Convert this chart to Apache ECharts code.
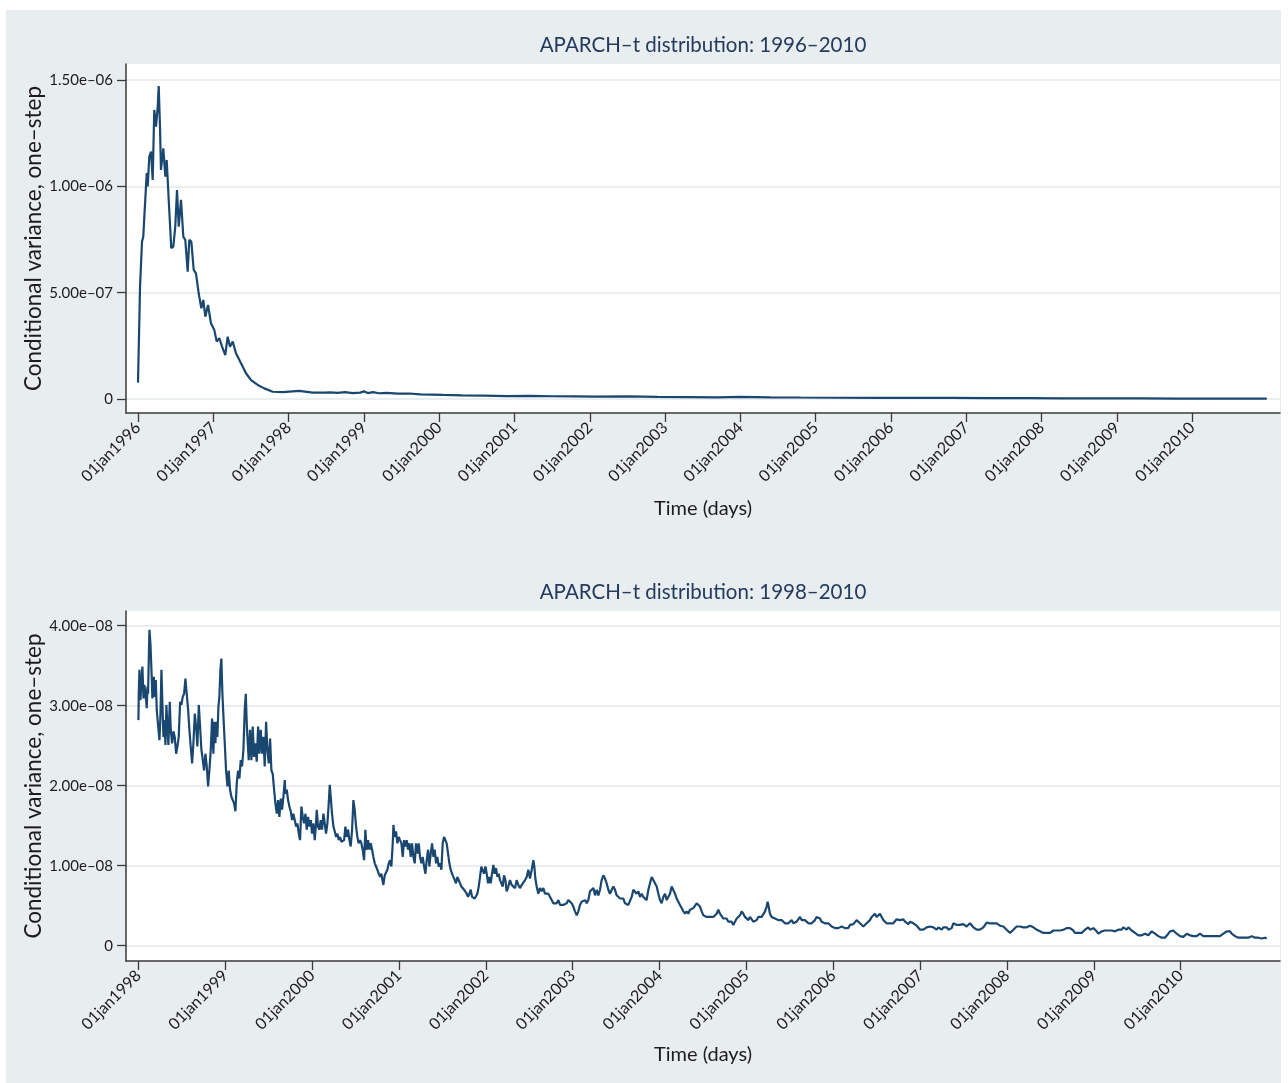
<!DOCTYPE html>
<html>
<head>
<meta charset="utf-8">
<title>APARCH-t conditional variance</title>
<script src="https://cdn.jsdelivr.net/npm/echarts@6/dist/echarts.min.js"></script>
<style>
  html, body { margin: 0; padding: 0; background: #ffffff; }
  #chart { width: 1288px; height: 1083px; }
</style>
</head>
<body>
<div id="chart"></div>
<script>
// ---- text ----
const panelTitles = ['APARCH\u2013t distribution: 1996\u20132010', 'APARCH\u2013t distribution: 1998\u20132010'];
const yAxisTitle = 'Conditional variance, one\u2013step';
const xAxisTitle = 'Time (days)';

// ---- ticks ----
const topYearTicks = [1996, 1997, 1998, 1999, 2000, 2001, 2002, 2003, 2004, 2005, 2006, 2007, 2008, 2009, 2010];
const bottomYearTicks = [1998, 1999, 2000, 2001, 2002, 2003, 2004, 2005, 2006, 2007, 2008, 2009, 2010];
const topVarTicks = [0, 5e-7, 1e-6, 1.5e-6];
const topVarTickLabels = ['0', '5.00e\u201307', '1.00e\u201306', '1.50e\u201306'];
const bottomVarTicks = [0, 1e-8, 2e-8, 3e-8, 4e-8];
const bottomVarTickLabels = ['0', '1.00e\u201308', '2.00e\u201308', '3.00e\u201308', '4.00e\u201308'];

// ---- series: [decimal year, conditional variance] ----
// 1996-2010 fit, variance in units of 1e-6
const topPoints = [
  [1996.000,0.077],[1996.027,0.528],[1996.053,0.740],[1996.070,0.763],[1996.084,0.857],[1996.116,1.062],[1996.129,0.999],[1996.150,1.140],[1996.173,1.163],[1996.195,1.030],
  [1996.216,1.359],[1996.239,1.281],[1996.262,1.375],[1996.275,1.472],[1996.292,1.281],[1996.305,1.077],[1996.336,1.179],[1996.363,1.046],[1996.381,1.124],[1996.408,0.936],
  [1996.442,0.709],[1996.469,0.716],[1996.495,0.810],[1996.518,0.983],[1996.541,0.810],[1996.571,0.936],[1996.602,0.763],[1996.628,0.748],[1996.660,0.599],[1996.681,0.748],
  [1996.708,0.740],[1996.740,0.607],[1996.770,0.591],[1996.806,0.497],[1996.841,0.427],[1996.867,0.466],[1996.894,0.387],[1996.930,0.442],[1996.969,0.356],[1997.013,0.325],
  [1997.045,0.270],[1997.080,0.286],[1997.116,0.246],[1997.159,0.207],[1997.191,0.293],[1997.222,0.246],[1997.258,0.270],[1997.301,0.215],[1997.368,0.168],[1997.434,0.121],
  [1997.501,0.089],[1997.590,0.066],[1997.677,0.050],[1997.789,0.034],[1997.922,0.032],[1998.142,0.038],[1998.320,0.030],[1998.487,0.030],
  [1998.550,0.031],[1998.650,0.029],[1998.750,0.032],[1998.850,0.028],[1998.950,0.030],[1999.000,0.036],[1999.050,0.028],[1999.120,0.032],[1999.200,0.027],[1999.300,0.029],
  [1999.450,0.025],[1999.600,0.026],[1999.750,0.022],[1999.900,0.021],[2000.050,0.019],[2000.300,0.017],[2000.600,0.016],[2000.900,0.014],[2001.200,0.015],[2001.500,0.013],
  [2001.800,0.012],[2002.100,0.011],[2002.500,0.012],[2002.900,0.010],[2003.300,0.009],[2003.700,0.008],[2004.000,0.010],[2004.400,0.008],[2004.800,0.007],[2005.300,0.006],
  [2005.800,0.005],[2006.300,0.005],[2006.800,0.005],[2007.300,0.004],[2007.800,0.004],[2008.300,0.003],[2008.800,0.003],[2009.300,0.003],[2009.800,0.002],[2010.300,0.002],
  [2010.990,0.002]
];

// 1998-2010 fit, variance in units of 1e-8
const bottomPoints = [
  [1998.000,2.82],[1998.004,3.15],[1998.012,3.45],[1998.023,3.07],[1998.035,3.30],[1998.046,3.49],[1998.058,3.09],[1998.069,3.26],[1998.081,3.15],[1998.096,2.97],
  [1998.104,3.24],[1998.111,3.15],[1998.119,3.57],[1998.127,3.95],[1998.138,3.78],[1998.150,3.45],[1998.161,3.09],[1998.177,3.36],[1998.188,3.11],[1998.200,3.32],
  [1998.211,2.95],[1998.226,2.76],[1998.242,2.57],[1998.253,2.86],[1998.265,3.45],[1998.276,3.03],[1998.288,2.61],[1998.299,2.82],[1998.311,2.51],[1998.322,3.01],
  [1998.334,2.74],[1998.345,2.51],[1998.361,3.05],[1998.372,2.70],[1998.388,2.53],[1998.403,2.68],[1998.418,2.61],[1998.434,2.40],[1998.449,2.49],[1998.464,2.61],
  [1998.480,3.05],[1998.495,3.01],[1998.510,3.11],[1998.526,3.15],[1998.541,3.34],[1998.556,3.15],[1998.572,2.95],[1998.587,2.70],[1998.602,2.49],[1998.618,2.28],
  [1998.633,2.53],[1998.649,2.90],[1998.664,2.74],[1998.679,2.49],[1998.695,3.01],[1998.710,2.74],[1998.725,2.45],[1998.741,2.32],[1998.756,2.19],[1998.771,2.40],
  [1998.787,2.24],[1998.802,1.99],[1998.817,2.19],[1998.833,2.45],[1998.848,2.84],[1998.863,2.40],[1998.875,2.80],[1998.886,2.53],[1998.898,2.80],[1998.909,2.61],
  [1998.921,2.99],[1998.932,3.11],[1998.944,3.45],[1998.955,3.59],[1998.967,3.15],[1998.979,2.86],[1998.994,2.53],[1999.009,2.19],[1999.025,1.99],[1999.040,2.19],
  [1999.055,1.95],[1999.071,1.86],[1999.086,1.88],[1999.101,1.78],[1999.117,1.68],[1999.132,2.03],[1999.147,2.19],[1999.163,2.09],[1999.178,2.32],[1999.193,2.24],
  [1999.209,2.45],[1999.224,2.95],[1999.236,3.15],[1999.247,2.78],[1999.259,2.53],[1999.270,2.32],[1999.285,2.70],[1999.301,2.32],[1999.316,2.74],[1999.331,2.36],
  [1999.347,2.53],[1999.362,2.30],[1999.378,2.74],[1999.393,2.40],[1999.408,2.70],[1999.424,2.40],[1999.439,2.61],[1999.454,2.24],[1999.470,2.80],[1999.485,2.45],
  [1999.500,2.28],[1999.516,2.59],[1999.531,2.19],[1999.546,2.15],[1999.562,1.95],[1999.577,1.78],[1999.593,1.65],[1999.608,1.82],[1999.623,1.61],[1999.639,1.84],
  [1999.654,1.70],[1999.669,1.86],[1999.685,2.07],[1999.692,1.90],[1999.708,1.95],[1999.723,1.82],[1999.738,1.74],[1999.754,1.68],[1999.769,1.57],[1999.784,1.65],
  [1999.800,1.57],[1999.815,1.49],[1999.830,1.53],[1999.846,1.40],[1999.861,1.32],[1999.876,1.74],[1999.892,1.61],[1999.907,1.53],[1999.923,1.65],[1999.938,1.45],
  [1999.953,1.61],[1999.969,1.49],[1999.984,1.57],[1999.999,1.40],[2000.015,1.53],[2000.030,1.32],[2000.045,1.53],[2000.053,1.70],[2000.068,1.49],[2000.084,1.45],
  [2000.099,1.57],[2000.114,1.45],[2000.130,1.65],[2000.145,1.53],[2000.160,1.40],[2000.176,1.53],[2000.191,1.78],[2000.203,2.01],[2000.214,1.86],[2000.229,1.65],
  [2000.245,1.49],[2000.260,1.43],[2000.276,1.36],[2000.291,1.40],[2000.306,1.32],[2000.322,1.36],[2000.337,1.30],[2000.352,1.28],[2000.368,1.32],[2000.383,1.49],
  [2000.398,1.36],[2000.414,1.45],[2000.429,1.32],[2000.444,1.24],[2000.460,1.45],[2000.475,1.82],[2000.490,1.70],[2000.506,1.49],[2000.521,1.36],[2000.536,1.28],
  [2000.552,1.32],[2000.567,1.28],[2000.582,1.20],[2000.598,1.07],[2000.613,1.45],[2000.628,1.20],[2000.644,1.32],[2000.659,1.20],[2000.675,1.28],[2000.690,1.20],
  [2000.705,1.11],[2000.721,1.03],[2000.736,0.99],[2000.751,0.95],[2000.767,0.90],[2000.782,0.86],[2000.797,0.90],[2000.813,0.80],[2000.820,0.76],[2000.836,0.88],
  [2000.851,0.90],[2000.866,0.95],[2000.882,1.03],[2000.897,1.07],[2000.912,0.99],[2000.928,1.28],[2000.936,1.51],[2000.951,1.36],[2000.966,1.43],[2000.982,1.28],
  [2000.997,1.36],[2001.012,1.32],[2001.028,1.28],[2001.043,1.11],[2001.058,1.32],[2001.074,1.24],[2001.089,1.32],[2001.104,1.20],[2001.120,1.28],[2001.135,1.11],
  [2001.150,1.28],[2001.166,1.11],[2001.181,1.03],[2001.196,1.28],[2001.212,1.15],[2001.227,1.28],[2001.242,1.11],[2001.258,1.03],[2001.273,1.11],[2001.289,0.99],
  [2001.304,0.90],[2001.319,1.07],[2001.335,1.20],[2001.350,0.99],[2001.365,1.15],[2001.381,1.28],[2001.396,1.11],[2001.411,1.20],[2001.427,1.03],[2001.442,1.11],
  [2001.457,0.99],[2001.473,1.03],[2001.488,0.95],[2001.503,1.28],[2001.519,1.36],[2001.534,1.32],[2001.549,1.28],[2001.565,1.15],[2001.580,1.03],[2001.595,0.95],
  [2001.611,0.90],[2001.626,0.86],[2001.642,0.82],[2001.657,0.78],[2001.672,0.86],[2001.688,0.82],[2001.703,0.78],[2001.718,0.74],[2001.734,0.74],[2001.749,0.70],
  [2001.764,0.68],[2001.780,0.65],[2001.795,0.61],[2001.810,0.65],[2001.826,0.70],[2001.841,0.61],[2001.856,0.59],[2001.872,0.59],[2001.887,0.61],[2001.902,0.65],
  [2001.918,0.74],[2001.933,0.86],[2001.948,0.99],[2001.964,1.01],[2001.979,0.90],[2001.995,0.99],[2002.010,0.90],[2002.025,0.78],[2002.041,0.86],[2002.056,0.78],
  [2002.071,0.90],[2002.087,1.01],[2002.102,0.90],[2002.117,0.97],[2002.133,0.86],[2002.148,0.90],[2002.163,0.82],[2002.179,0.78],[2002.194,0.74],[2002.209,0.88],
  [2002.225,0.82],
  [2002.240,0.68],[2002.259,0.74],[2002.278,0.82],[2002.297,0.76],[2002.317,0.78],[2002.336,0.72],[2002.355,0.82],[2002.374,0.76],[2002.393,0.72],[2002.413,0.76],
  [2002.432,0.78],[2002.451,0.82],[2002.470,0.86],[2002.489,0.95],[2002.508,0.84],[2002.528,0.95],[2002.547,1.07],[2002.558,0.99],[2002.570,0.84],[2002.585,0.74],
  [2002.604,0.65],[2002.623,0.72],[2002.643,0.68],[2002.662,0.72],[2002.681,0.65],[2002.700,0.63],[2002.719,0.65],[2002.739,0.61],[2002.758,0.57],[2002.777,0.53],
  [2002.796,0.55],[2002.815,0.53],[2002.835,0.57],[2002.854,0.51],[2002.873,0.53],[2002.892,0.51],[2002.911,0.49],[2002.931,0.53],[2002.950,0.57],[2002.969,0.59],
  [2002.988,0.53],[2003.007,0.49],[2003.026,0.43],[2003.046,0.38],[2003.065,0.43],[2003.084,0.51],[2003.103,0.55],[2003.122,0.53],[2003.142,0.57],[2003.161,0.53],
  [2003.180,0.57],[2003.199,0.68],[2003.218,0.70],[2003.238,0.72],[2003.257,0.63],[2003.276,0.70],[2003.295,0.63],[2003.314,0.70],[2003.333,0.82],[2003.353,0.88],
  [2003.372,0.84],[2003.391,0.78],[2003.410,0.70],[2003.429,0.65],[2003.449,0.70],[2003.468,0.74],[2003.487,0.70],[2003.506,0.63],[2003.525,0.61],[2003.545,0.59],
  [2003.564,0.57],[2003.583,0.59],[2003.602,0.53],[2003.621,0.55],[2003.640,0.51],[2003.660,0.53],[2003.679,0.61],[2003.698,0.70],[2003.717,0.72],[2003.736,0.65],
  [2003.756,0.68],[2003.775,0.61],[2003.794,0.65],[2003.813,0.61],[2003.832,0.63],[2003.851,0.57],[2003.871,0.70],[2003.890,0.78],[2003.909,0.86],[2003.928,0.82],
  [2003.947,0.78],[2003.967,0.74],[2003.986,0.65],[2004.005,0.57],[2004.024,0.53],[2004.043,0.61],[2004.063,0.65],[2004.082,0.57],[2004.101,0.59],[2004.120,0.65],
  [2004.139,0.74],[2004.158,0.72],[2004.178,0.65],[2004.197,0.59],[2004.216,0.55],[2004.235,0.51],[2004.254,0.49],[2004.274,0.43],[2004.293,0.40],[2004.312,0.43],
  [2004.331,0.40],[2004.350,0.45],[2004.369,0.43],[2004.389,0.47],[2004.408,0.49],[2004.427,0.53],[2004.446,0.55],[2004.465,0.49],[2004.485,0.43],[2004.504,0.38],
  [2004.523,0.40],[2004.542,0.36],[2004.561,0.38],[2004.581,0.36],[2004.600,0.38],[2004.619,0.36],[2004.638,0.38],[2004.657,0.40],[2004.676,0.45],[2004.696,0.40],
  [2004.715,0.38],[2004.734,0.34],[2004.753,0.32],[2004.772,0.34],[2004.792,0.30],[2004.811,0.32],[2004.830,0.30],[2004.849,0.26],[2004.868,0.30],[2004.888,0.34],
  [2004.907,0.36],[2004.926,0.38],[2004.945,0.43],[2004.964,0.40],[2004.983,0.36],[2005.003,0.34],[2005.022,0.32],[2005.041,0.36],[2005.060,0.34],[2005.079,0.30],
  [2005.099,0.28],[2005.118,0.32],[2005.137,0.36],[2005.156,0.38],[2005.175,0.36],[2005.194,0.38],[2005.214,0.43],[2005.233,0.49],[2005.244,0.55],[2005.256,0.49],
  [2005.271,0.40],[2005.290,0.36],[2005.310,0.38],[2005.329,0.34],[2005.348,0.36],[2005.367,0.32],[2005.386,0.34],[2005.406,0.32],[2005.425,0.30],[2005.444,0.28],
  [2005.463,0.26],[2005.482,0.28],[2005.501,0.30],[2005.521,0.32],[2005.540,0.28],[2005.559,0.26],[2005.578,0.30],[2005.597,0.32],[2005.617,0.36],[2005.636,0.32],
  [2005.655,0.34],[2005.674,0.32],[2005.693,0.30],[2005.713,0.28],[2005.732,0.26],[2005.751,0.28],[2005.770,0.30],[2005.789,0.32],[2005.808,0.36],[2005.828,0.38],
  [2005.847,0.34],[2005.866,0.30],[2005.885,0.28],[2005.904,0.28],[2005.924,0.26],[2005.943,0.28],[2005.962,0.26],[2005.981,0.24],[2006.000,0.22],[2006.020,0.22],
  [2006.039,0.24],[2006.058,0.22],[2006.077,0.22],[2006.096,0.24],[2006.115,0.22],[2006.135,0.22],[2006.154,0.24],[2006.173,0.22],[2006.192,0.26],[2006.211,0.28],
  [2006.231,0.27],[2006.250,0.29],[2006.269,0.32],[2006.288,0.30],[2006.307,0.28],[2006.327,0.26],[2006.346,0.24],[2006.365,0.24],[2006.384,0.28],[2006.403,0.30],
  [2006.422,0.32],[2006.442,0.36],[2006.461,0.38],[2006.480,0.40],[2006.499,0.36],[2006.518,0.38],[2006.538,0.40],[2006.557,0.36],[2006.576,0.32],[2006.595,0.30],
  [2006.614,0.28],[2006.634,0.30],[2006.653,0.28],[2006.672,0.30],[2006.691,0.28],[2006.710,0.30],[2006.729,0.33],[2006.749,0.34],[2006.768,0.32],
  [2006.787,0.32],[2006.807,0.33],[2006.826,0.30],[2006.845,0.29],[2006.864,0.27],[2006.883,0.30],[2006.903,0.31],[2006.922,0.28],[2006.941,0.26],[2006.960,0.25],
  [2006.979,0.23],[2006.999,0.20],[2007.018,0.19],[2007.037,0.20],[2007.056,0.19],[2007.075,0.23],[2007.094,0.22],[2007.114,0.24],[2007.133,0.22],[2007.152,0.23],
  [2007.171,0.22],[2007.190,0.20],[2007.210,0.23],[2007.229,0.22],[2007.248,0.20],[2007.267,0.23],[2007.286,0.22],[2007.306,0.23],[2007.325,0.20],[2007.344,0.19],
  [2007.363,0.22],[2007.382,0.28],[2007.401,0.29],[2007.421,0.26],[2007.440,0.25],[2007.459,0.26],[2007.478,0.25],[2007.497,0.27],[2007.517,0.26],[2007.536,0.24],
  [2007.555,0.26],[2007.574,0.28],[2007.593,0.27],[2007.613,0.23],[2007.632,0.22],[2007.651,0.20],[2007.670,0.20],[2007.689,0.20],[2007.708,0.22],[2007.728,0.23],
  [2007.747,0.25],[2007.766,0.29],[2007.785,0.30],[2007.804,0.28],[2007.824,0.26],[2007.843,0.28],[2007.862,0.30],[2007.881,0.28],[2007.900,0.26],[2007.920,0.25],
  [2007.939,0.23],[2007.958,0.24],[2007.977,0.22],[2007.996,0.20],[2008.015,0.18],[2008.035,0.16],[2008.054,0.18],[2008.073,0.20],[2008.092,0.22],[2008.111,0.24],
  [2008.131,0.26],[2008.150,0.24],[2008.169,0.22],[2008.188,0.23],[2008.207,0.22],[2008.227,0.23],[2008.246,0.24],[2008.265,0.25],[2008.284,0.25],[2008.303,0.23],
  [2008.322,0.22],[2008.342,0.20],[2008.361,0.19],[2008.380,0.18],[2008.399,0.16],[2008.418,0.16],[2008.438,0.18],[2008.457,0.16],[2008.476,0.17],[2008.495,0.16],
  [2008.514,0.18],[2008.534,0.19],[2008.553,0.20],[2008.572,0.19],[2008.591,0.18],[2008.610,0.19],[2008.629,0.18],[2008.649,0.20],[2008.668,0.20],[2008.687,0.22],
  [2008.706,0.23],[2008.725,0.22],[2008.745,0.20],[2008.764,0.19],[2008.783,0.16],[2008.802,0.15],[2008.821,0.16],[2008.841,0.15],[2008.860,0.16],[2008.879,0.18],
  [2008.898,0.20],[2008.917,0.22],[2008.936,0.23],[2008.956,0.20],[2008.975,0.20],[2008.994,0.22],[2009.013,0.20],[2009.032,0.18],[2009.052,0.15],[2009.071,0.15],
  [2009.090,0.18],[2009.109,0.20],[2009.128,0.19],[2009.148,0.20],[2009.167,0.19],[2009.186,0.20],[2009.205,0.19],[2009.224,0.20],[2009.243,0.18],[2009.263,0.19],
  [2009.282,0.20],[2009.301,0.19],[2009.320,0.20],[2009.339,0.23],[2009.359,0.22],[2009.378,0.20],[2009.397,0.23],[2009.416,0.22],[2009.435,0.19],[2009.455,0.18],
  [2009.474,0.16],[2009.493,0.15],[2009.512,0.13],[2009.531,0.15],[2009.550,0.13],[2009.570,0.15],[2009.589,0.15],[2009.608,0.15],[2009.627,0.13],[2009.646,0.15],
  [2009.666,0.18],[2009.685,0.16],[2009.704,0.15],[2009.723,0.13],[2009.742,0.12],[2009.762,0.11],[2009.781,0.10],[2009.800,0.11],[2009.819,0.10],[2009.838,0.12],
  [2009.857,0.15],[2009.877,0.18],[2009.896,0.16],[2009.915,0.19],[2009.934,0.18],[2009.953,0.15],[2009.973,0.13],[2009.992,0.12],[2010.011,0.10],[2010.030,0.11],
  [2010.049,0.13],[2010.069,0.15],[2010.088,0.15],[2010.107,0.13],[2010.126,0.11],[2010.145,0.12],[2010.164,0.11],[2010.184,0.12],[2010.203,0.13],[2010.222,0.15],
  [2010.241,0.13],[2010.260,0.12],[2010.280,0.13],[2010.299,0.12],[2010.318,0.13],[2010.337,0.12],[2010.356,0.11],[2010.376,0.12],[2010.395,0.13],[2010.414,0.12],
  [2010.433,0.11],[2010.452,0.12],[2010.471,0.13],[2010.491,0.15],[2010.510,0.16],[2010.529,0.18],[2010.548,0.18],[2010.567,0.18],[2010.587,0.15],[2010.606,0.13],
  [2010.625,0.12],[2010.644,0.11],[2010.663,0.10],[2010.683,0.11],[2010.702,0.10],[2010.721,0.11],[2010.740,0.10],[2010.759,0.11],[2010.778,0.10],[2010.798,0.11],
  [2010.817,0.12],[2010.836,0.11],[2010.855,0.10],[2010.874,0.09],[2010.894,0.10],[2010.913,0.09],[2010.932,0.09],[2010.951,0.09],[2010.970,0.10],[2010.990,0.09]
];

// ---- styling ----
const FONT = 'Lato, "Open Sans", sans-serif';
const INK = '#1c1c1c';
const AXIS_COLOR = '#3a3a3a';
const GRID_COLOR = '#e2e9ed';
const LINE_COLOR = '#1a476f';
const TITLE_COLOR = '#243a5e';

function tickLabel(ticks, labels) {
  return function (v) {
    const i = ticks.findIndex(t => Math.abs(t - v) <= Math.abs(t) * 1e-6 + 1e-24);
    return i >= 0 ? labels[i] : '';
  };
}

function yAxisFor(gridIndex, ticks, labels, min, max) {
  return {
    type: 'value', gridIndex, min, max,
    axisLine: { show: true, onZero: false, lineStyle: { color: AXIS_COLOR, width: 1.5 } },
    axisTick: { show: true, length: 9, customValues: ticks, lineStyle: { color: AXIS_COLOR, width: 1.3 } },
    axisLabel: { customValues: ticks, formatter: tickLabel(ticks, labels), margin: 13,
                 color: INK, fontSize: 15, fontFamily: FONT },
    splitLine: { show: true, lineStyle: { color: GRID_COLOR, width: 1.5 } },
    name: yAxisTitle, nameLocation: 'middle', nameGap: 81, nameMoveOverlap: false,
    nameTextStyle: { color: INK, fontSize: 22.5, fontFamily: FONT }
  };
}

function xAxisFor(gridIndex, years, min, max, nameGap) {
  return {
    type: 'value', gridIndex, min, max,
    axisLine: { show: true, onZero: false, lineStyle: { color: AXIS_COLOR, width: 1.5 } },
    axisTick: { show: true, length: 9, customValues: years, lineStyle: { color: AXIS_COLOR, width: 1.3 } },
    axisLabel: { customValues: years, formatter: v => '01jan' + Math.round(v), rotate: 45, margin: 12,
                 color: INK, fontSize: 16, fontFamily: FONT },
    splitLine: { show: false },
    name: xAxisTitle, nameLocation: 'middle', nameGap, nameMoveOverlap: false,
    nameTextStyle: { color: INK, fontSize: 20, fontFamily: FONT }
  };
}

const chart = echarts.init(document.getElementById('chart'), null, { renderer: 'canvas' });

chart.setOption({
  animation: false,
  backgroundColor: '#e8edf0',
  title: panelTitles.map((text, i) => ({
    text, left: 703, top: i === 0 ? 35 : 582, textAlign: 'center', padding: 0,
    textStyle: { color: TITLE_COLOR, fontSize: 20.5, fontWeight: 'normal', fontFamily: FONT }
  })),
  graphic: [
    { type: 'rect', shape: { x: 0, y: 0, width: 1288, height: 10 }, style: { fill: '#ffffff' }, silent: true },
    { type: 'rect', shape: { x: 0, y: 0, width: 6, height: 1083 }, style: { fill: '#ffffff' }, silent: true },
    { type: 'rect', shape: { x: 1281, y: 0, width: 7, height: 1083 }, style: { fill: '#ffffff' }, silent: true }
  ],
  grid: [
    { left: 126, top: 64, width: 1154, height: 349, show: true, backgroundColor: '#ffffff', borderWidth: 0, outerBoundsMode: 'none' },
    { left: 126, top: 611, width: 1154, height: 350, show: true, backgroundColor: '#ffffff', borderWidth: 0, outerBoundsMode: 'none' }
  ],
  xAxis: [
    xAxisFor(0, topYearTicks, 1995.8406, 2011.166, 86),
    xAxisFor(1, bottomYearTicks, 1997.857, 2011.143, 84)
  ],
  yAxis: [
    yAxisFor(0, topVarTicks, topVarTickLabels, -0.0658e-6, 1.5752e-6),
    yAxisFor(1, bottomVarTicks, bottomVarTickLabels, -0.191e-8, 4.184e-8)
  ],
  series: [
    {
      type: 'line', xAxisIndex: 0, yAxisIndex: 0, showSymbol: false, symbol: 'none', silent: true,
      lineStyle: { color: LINE_COLOR, width: 2.2 },
      data: topPoints.map(([yr, v]) => [yr, v * 1e-6])
    },
    {
      type: 'line', xAxisIndex: 1, yAxisIndex: 1, showSymbol: false, symbol: 'none', silent: true,
      lineStyle: { color: LINE_COLOR, width: 2.2 },
      data: bottomPoints.map(([yr, v]) => [yr, v * 1e-8])
    }
  ]
});
</script>
</body>
</html>
